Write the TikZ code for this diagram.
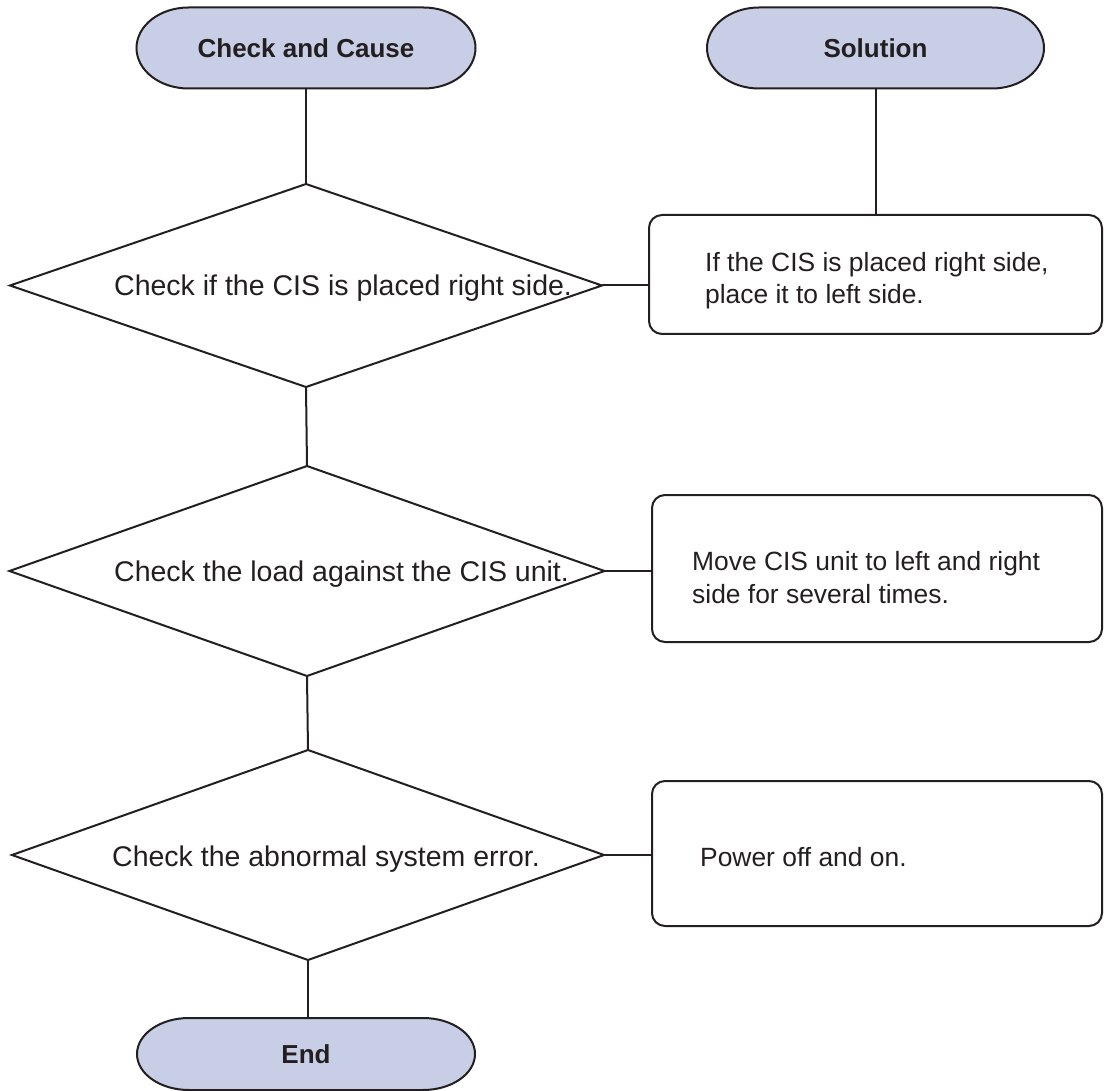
\documentclass[tikz,border=0pt]{standalone}
\usepackage{fontspec}
\setmainfont{Liberation Sans}
\usetikzlibrary{shapes.geometric,calc,backgrounds}
\definecolor{ink}{RGB}{35,31,32}
\definecolor{termfill}{RGB}{200,206,230}
\newcommand\termshape[3]{%
  \filldraw[fill=termfill, draw=ink, line width=2pt]
    ($(#1.north west)+(#2,0)$) -- ($(#1.north east)+(-#2,0)$)
    arc[start angle=90, end angle=-90, x radius=#2pt, y radius=#3pt]
    -- ($(#1.south west)+(#2,0)$)
    arc[start angle=270, end angle=90, x radius=#2pt, y radius=#3pt] -- cycle;}
\begin{document}
\begin{tikzpicture}[x=1pt,y=-1pt,
  every node/.style={text=ink, font=\fontsize{26.4}{32}\selectfont},
  line/.style={draw=ink, line width=2pt},
  termbox/.style={rectangle, inner sep=0pt, outer sep=0pt, font=\fontsize{26}{32}\selectfont\bfseries},
  decision/.style={diamond, draw=ink, line width=2pt, inner sep=0pt, outer sep=0pt},
  solbox/.style={rectangle, draw=ink, line width=2pt, rounded corners=13pt, inner sep=0pt, outer sep=0pt},
  txt/.style={anchor=base west, align=left, inner sep=0pt},
  dtxt/.style={anchor=base west, inner sep=0pt, font=\fontsize{28.5}{34}\selectfont},
]
\useasboundingbox (0,0) rectangle (1104,1091);

% terminals
\node[termbox, minimum width=339pt, minimum height=81pt] (t1) at (306,48) {Check and Cause};
\node[termbox, minimum width=337pt, minimum height=81pt] (t2) at (875.5,48) {Solution};
\node[termbox, minimum width=338pt, minimum height=72pt] (tend) at (306,1054) {End};
\begin{pgfonlayer}{background}
  \termshape{t1}{52}{40.5}
  \termshape{t2}{52}{40.5}
  \termshape{tend}{52}{36}
\end{pgfonlayer}

% decisions
\node[decision, minimum width=592pt, minimum height=203pt] (d1) at (306,285.5) {};
\node[decision, minimum width=595pt, minimum height=210pt] (d2) at (307,571) {};
\node[decision, minimum width=592pt, minimum height=210pt] (d3) at (308,855) {};
\node[dtxt] (d1t) at (114,296) {Check if the CIS is placed right side.};
\node[dtxt] (d2t) at (114,581.5) {Check the load against the CIS unit.};
\node[dtxt] (d3t) at (112,866) {Check the abnormal system error.};

% solution boxes
\node[solbox, minimum width=453pt, minimum height=119pt] (b1) at (875.5,274.5) {};
\node[solbox, minimum width=450pt, minimum height=147pt] (b2) at (877,568.5) {};
\node[solbox, minimum width=450pt, minimum height=145pt] (b3) at (877,853.5) {};
\node[txt] (b1t) at (705,304) {If the CIS is placed right side,\\place it to left side.};
\node[txt, font=\fontsize{26.4}{33}\selectfont] (b2t) at (692,603) {Move CIS unit to left and right\\side for several times.};
\node[txt] (b3t) at (700,866) {Power off and on.};

% connectors
\draw[line] (t1.south) -- (t1.south |- d1.north);
\draw[line] (d1.south) -- (d2.north);
\draw[line] (d2.south) -- (d3.north);
\draw[line] (d3.south) -- (d3.south |- tend.north);
\draw[line] (t2.south) -- (t2.south |- b1.north);
\draw[line] (d1.east) -- (d1.east -| b1.west);
\draw[line] (d2.east) -- (d2.east -| b2.west);
\draw[line] (d3.east) -- (d3.east -| b3.west);
\end{tikzpicture}
\end{document}
